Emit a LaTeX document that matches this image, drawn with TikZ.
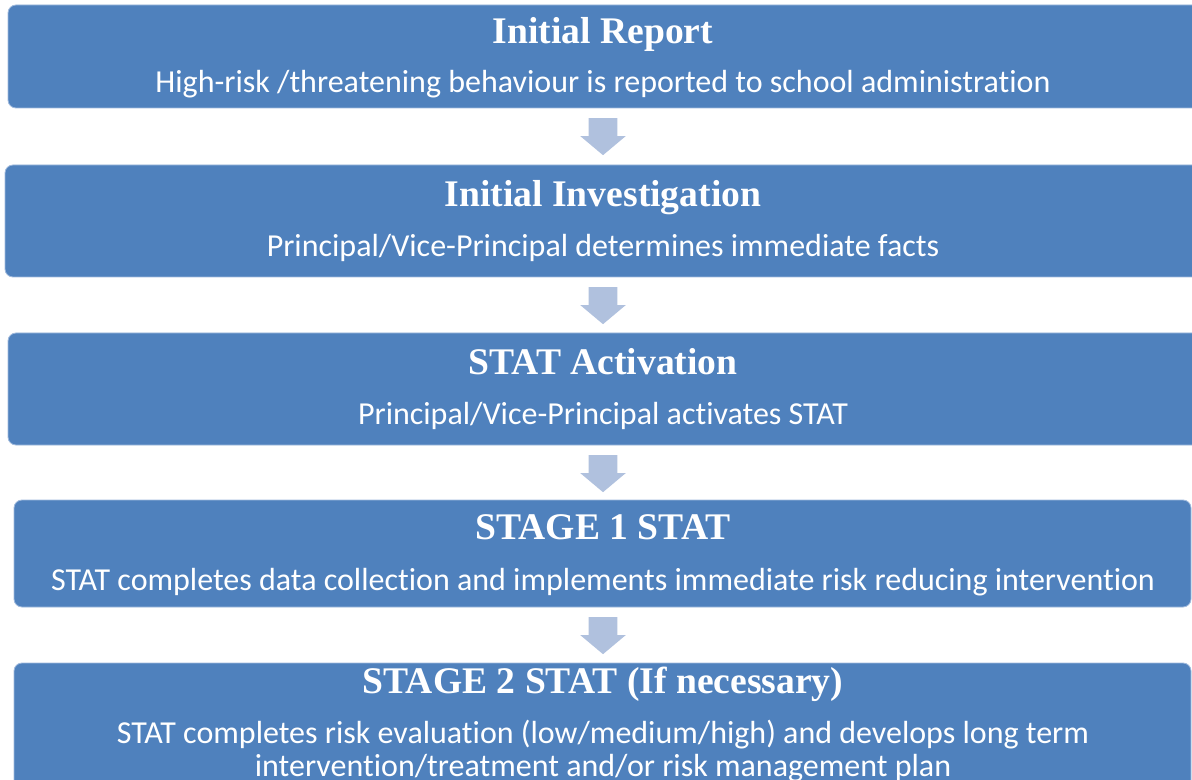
\documentclass[tikz,border=0pt]{standalone}
\usepackage{fontspec}
\setmainfont{Carlito}[Ligatures=NoCommon]
\newfontfamily\headfont{Liberation Serif}
\usetikzlibrary{shapes.arrows,fit,calc,positioning}

\definecolor{boxblue}{RGB}{79,129,189}
\definecolor{boxedge}{RGB}{160,186,221}
\definecolor{arrowblue}{RGB}{176,193,222}

\begin{document}
\begin{tikzpicture}
[x=0.75pt,y=-0.75pt,
stepbox/.style={rectangle,rounded corners=6pt,fill=boxblue,draw=boxedge,line width=0.6pt,inner sep=0pt},
headtext/.style={anchor=base,text=white,font=\headfont\bfseries\fontsize{28.2}{34}\selectfont},
bodytext/.style={anchor=base,text=white,font=\fontsize{24}{24.75}\selectfont,align=center},
downarrow/.style={single arrow,shape border rotate=270,fill=arrowblue,draw=none,anchor=tail,
  inner xsep=10.5pt,inner ysep=0pt,minimum height=27.75pt,minimum width=33.75pt,
  single arrow head extend=6.4pt,single arrow tip angle=100}]
\useasboundingbox (0,0) rectangle (1192,780);
\clip (0,0) rectangle (1192,780);
\fill[white] (0,0) rectangle (1192,780);
\coordinate (mid) at (603,0);

% the five stages
\node[stepbox,fit={(8,5) (1204,108)}] (report) {};
\node[stepbox,fit={(5,165) (1204,277)}] (invest) {};
\node[stepbox,fit={(8,333) (1204,445)}] (activate) {};
\node[stepbox,fit={(14,500) (1191,607)}] (stageone) {};
\node[stepbox,fit={(14,663) (1191,810)}] (stagetwo) {};

\node[headtext] (reporthead) at (603,44) {Initial Report};
\node[bodytext] (reportbody) at (603,93) {High-risk /threatening behaviour is reported to school administration};
\node[headtext] (investhead) at (603,207) {Initial Investigation};
\node[bodytext] (investbody) at (603,257) {Principal/Vice-Principal determines immediate facts};
\node[headtext] (activatehead) at (603,375) {STAT Activation};
\node[bodytext] (activatebody) at (603,425) {Principal/Vice-Principal activates STAT};
\node[headtext] (stageonehead) at (603,539) {STAGE 1 STAT};
\node[bodytext] (stageonebody) at (603,590) {STAT completes data collection and implements immediate risk reducing intervention};
\node[headtext] (stagetwohead) at (603,693) {STAGE 2 STAT (If necessary)};
\node[bodytext] (stagetwobody) at (603,776) {STAT completes risk evaluation (low/medium/high) and develops long term\\intervention/treatment and/or risk management plan};

% arrows between stages
\node[downarrow] (arrowa) at ($(report.south -| mid)+(0,9.5)$) {};
\node[downarrow] (arrowb) at ($(invest.south -| mid)+(0,9.5)$) {};
\node[downarrow] (arrowc) at ($(activate.south -| mid)+(0,9.5)$) {};
\node[downarrow] (arrowd) at ($(stageone.south -| mid)+(0,9.5)$) {};
\end{tikzpicture}
\end{document}
